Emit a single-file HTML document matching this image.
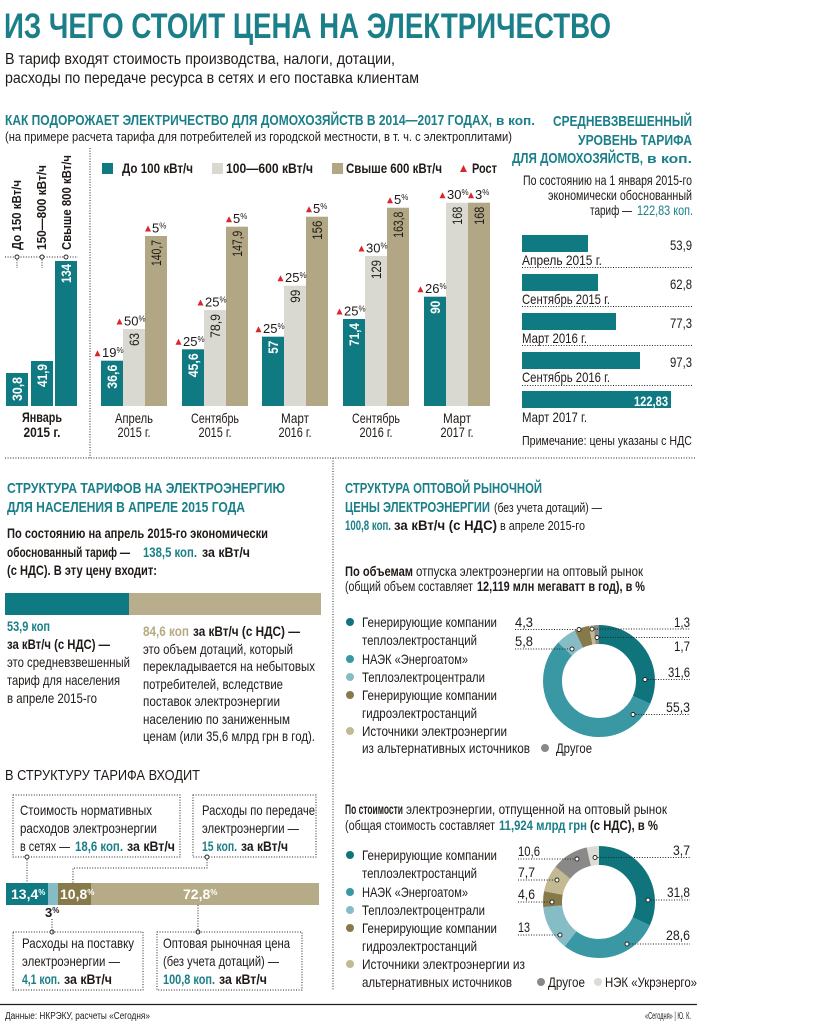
<!DOCTYPE html>
<html><head><meta charset="utf-8">
<style>
html,body{margin:0;padding:0;background:#fff;}
svg{display:block;}
text{font-family:"Liberation Sans Narrow","Liberation Sans",sans-serif;fill:#1f1a17;}
.b{font-weight:bold;}
.tl{fill:#1a7f88;}
.w{fill:#fff;}
.dot{stroke:#222;stroke-width:1;stroke-dasharray:1 1.6;fill:none;}
.c{fill:#fff;stroke:#222;stroke-width:0.9;}
</style></head>
<body>
<svg width="819" height="1030" viewBox="0 0 819 1030" xmlns="http://www.w3.org/2000/svg">
<rect width="819" height="1030" fill="#fff"/>

<!-- Title -->
<text x="4" y="38" font-size="35" class="b tl" textLength="607" lengthAdjust="spacingAndGlyphs">ИЗ ЧЕГО СТОИТ ЦЕНА НА ЭЛЕКТРИЧЕСТВО</text>
<text x="5" y="64" font-size="16" textLength="390" lengthAdjust="spacingAndGlyphs">В тариф входят стоимость производства, налоги, дотации,</text>
<text x="5" y="83" font-size="16" textLength="414" lengthAdjust="spacingAndGlyphs">расходы по передаче ресурса в сетях и его поставка клиентам</text>

<!-- Section 1 heading -->
<text x="5" y="125" font-size="15" class="b tl" textLength="487" lengthAdjust="spacingAndGlyphs">КАК ПОДОРОЖАЕТ ЭЛЕКТРИЧЕСТВО ДЛЯ ДОМОХОЗЯЙСТВ В 2014—2017 ГОДАХ,</text>
<text x="496" y="125" font-size="13" class="b tl" textLength="39" lengthAdjust="spacingAndGlyphs">в коп.</text>
<text x="5" y="141" font-size="13" textLength="507" lengthAdjust="spacingAndGlyphs">(на примере расчета тарифа для потребителей из городской местности, в т. ч. с электроплитами)</text>

<!-- Left January group -->
<text transform="translate(21,250) rotate(-90)" font-size="13" class="b" textLength="70" lengthAdjust="spacingAndGlyphs">До 150 кВт/ч</text>
<text transform="translate(46,250) rotate(-90)" font-size="13" class="b" textLength="85" lengthAdjust="spacingAndGlyphs">150—800 кВт/ч</text>
<text transform="translate(71,250) rotate(-90)" font-size="13" class="b" textLength="95" lengthAdjust="spacingAndGlyphs">Свыше 800 кВт/ч</text>
<line x1="5" y1="257" x2="78" y2="257" class="dot"/>
<line x1="17" y1="257" x2="17" y2="268" class="dot"/>
<line x1="42" y1="257" x2="42" y2="268" class="dot"/>
<circle cx="17" cy="257" r="2" class="c"/>
<circle cx="42" cy="257" r="2" class="c"/>
<circle cx="66" cy="257" r="2" class="c"/>
<rect x="6" y="373" width="22" height="33" fill="#107a82"/>
<rect x="31" y="361" width="22" height="45" fill="#107a82"/>
<rect x="55" y="261" width="22" height="145" fill="#107a82"/>
<text transform="translate(22,401) rotate(-90)" font-size="14" class="b w" textLength="24" lengthAdjust="spacingAndGlyphs">30,8</text>
<text transform="translate(47,387) rotate(-90)" font-size="14" class="b w" textLength="23" lengthAdjust="spacingAndGlyphs">41,9</text>
<text transform="translate(71,283) rotate(-90)" font-size="14" class="b w" textLength="19" lengthAdjust="spacingAndGlyphs">134</text>
<text x="42" y="422" font-size="14" class="b" text-anchor="middle" textLength="40" lengthAdjust="spacingAndGlyphs">Январь</text>
<text x="42" y="437" font-size="14" class="b" text-anchor="middle" textLength="37" lengthAdjust="spacingAndGlyphs">2015 г.</text>

<line x1="90" y1="148" x2="90" y2="458" class="dot"/>

<!-- Legend -->
<rect x="102" y="163" width="11" height="11" fill="#107a82"/>
<text x="122" y="173" font-size="14" class="b" textLength="71" lengthAdjust="spacingAndGlyphs">До 100 кВт/ч</text>
<rect x="212" y="163" width="11" height="11" fill="#dad9d1"/>
<text x="226" y="173" font-size="14" class="b" textLength="87" lengthAdjust="spacingAndGlyphs">100—600 кВт/ч</text>
<rect x="332" y="163" width="11" height="11" fill="#b1a784"/>
<text x="346" y="173" font-size="14" class="b" textLength="96" lengthAdjust="spacingAndGlyphs">Свыше 600 кВт/ч</text>
<polygon points="460,172 467,172 463.5,165" fill="#d9262b"/>
<text x="472" y="173" font-size="14" class="b" textLength="25" lengthAdjust="spacingAndGlyphs">Рост</text>

<!-- Bars main -->
<g>
<rect x="101" y="360.7" width="22" height="45.3" fill="#107a82"/>
<rect x="123" y="329" width="22" height="77" fill="#dad9d1"/>
<rect x="145" y="236" width="22" height="170" fill="#b1a784"/>
<rect x="182" y="349.3" width="22" height="56.7" fill="#107a82"/>
<rect x="204" y="310" width="22" height="96" fill="#dad9d1"/>
<rect x="226" y="226.7" width="22" height="179.3" fill="#b1a784"/>
<rect x="262" y="336.7" width="22" height="69.3" fill="#107a82"/>
<rect x="284" y="285.7" width="22" height="120.3" fill="#dad9d1"/>
<rect x="306" y="216.7" width="22" height="189.3" fill="#b1a784"/>
<rect x="343" y="319" width="22" height="87" fill="#107a82"/>
<rect x="365" y="256" width="22" height="150" fill="#dad9d1"/>
<rect x="387" y="207.7" width="22" height="198.3" fill="#b1a784"/>
<rect x="424" y="296.7" width="22" height="109.3" fill="#107a82"/>
<rect x="446" y="202.7" width="22" height="203.3" fill="#dad9d1"/>
<rect x="468" y="202.7" width="22" height="203.3" fill="#b1a784"/>
</g>
<!-- values in bars -->
<g font-size="14">
<text transform="translate(117,364.7) rotate(-90)" text-anchor="end" class="b w" textLength="24" lengthAdjust="spacingAndGlyphs">36,6</text>
<text transform="translate(139,333) rotate(-90)" text-anchor="end" textLength="13" lengthAdjust="spacingAndGlyphs">63</text>
<text transform="translate(161,240) rotate(-90)" text-anchor="end" textLength="26" lengthAdjust="spacingAndGlyphs">140,7</text>
<text transform="translate(198,353.3) rotate(-90)" text-anchor="end" class="b w" textLength="24" lengthAdjust="spacingAndGlyphs">45,6</text>
<text transform="translate(220,314) rotate(-90)" text-anchor="end" textLength="24" lengthAdjust="spacingAndGlyphs">78,9</text>
<text transform="translate(242,230.7) rotate(-90)" text-anchor="end" textLength="26" lengthAdjust="spacingAndGlyphs">147,9</text>
<text transform="translate(278,340.7) rotate(-90)" text-anchor="end" class="b w" textLength="13" lengthAdjust="spacingAndGlyphs">57</text>
<text transform="translate(300,289.7) rotate(-90)" text-anchor="end" textLength="13" lengthAdjust="spacingAndGlyphs">99</text>
<text transform="translate(322,220.7) rotate(-90)" text-anchor="end" textLength="19" lengthAdjust="spacingAndGlyphs">156</text>
<text transform="translate(359,323) rotate(-90)" text-anchor="end" class="b w" textLength="23" lengthAdjust="spacingAndGlyphs">71,4</text>
<text transform="translate(381,260) rotate(-90)" text-anchor="end" textLength="19" lengthAdjust="spacingAndGlyphs">129</text>
<text transform="translate(403,211.7) rotate(-90)" text-anchor="end" textLength="26" lengthAdjust="spacingAndGlyphs">163,8</text>
<text transform="translate(440,300.7) rotate(-90)" text-anchor="end" class="b w" textLength="13" lengthAdjust="spacingAndGlyphs">90</text>
<text transform="translate(462,206.7) rotate(-90)" text-anchor="end" textLength="18" lengthAdjust="spacingAndGlyphs">168</text>
<text transform="translate(484,206.7) rotate(-90)" text-anchor="end" textLength="18" lengthAdjust="spacingAndGlyphs">168</text>
</g>
<!-- growth labels -->
<g fill="#d9262b">
<polygon points="94.5,356.2 100.5,356.2 97.5,350.2"/>
<polygon points="116.5,324.5 122.5,324.5 119.5,318.5"/>
<polygon points="145,231.5 151,231.5 148,225.5"/>
<polygon points="175.5,344.8 181.5,344.8 178.5,338.8"/>
<polygon points="197.5,305.5 203.5,305.5 200.5,299.5"/>
<polygon points="226,222.2 232,222.2 229,216.2"/>
<polygon points="255.5,332.2 261.5,332.2 258.5,326.2"/>
<polygon points="277.5,281.2 283.5,281.2 280.5,275.2"/>
<polygon points="306,212.2 312,212.2 309,206.2"/>
<polygon points="336.5,314.5 342.5,314.5 339.5,308.5"/>
<polygon points="358.5,251.5 364.5,251.5 361.5,245.5"/>
<polygon points="387,203.2 393,203.2 390,197.2"/>
<polygon points="417.5,292.2 423.5,292.2 420.5,286.2"/>
<polygon points="439.5,198.2 445.5,198.2 442.5,192.2"/>
<polygon points="468,198.2 474,198.2 471,192.2"/>
</g>
<g font-size="13">
<text x="102" y="357.2">19<tspan font-size="8" dy="-4">%</tspan></text>
<text x="124" y="325.5">50<tspan font-size="8" dy="-4">%</tspan></text>
<text x="152" y="232.5">5<tspan font-size="8" dy="-4">%</tspan></text>
<text x="183" y="345.8">25<tspan font-size="8" dy="-4">%</tspan></text>
<text x="205" y="306.5">25<tspan font-size="8" dy="-4">%</tspan></text>
<text x="233" y="223.2">5<tspan font-size="8" dy="-4">%</tspan></text>
<text x="263" y="333.2">25<tspan font-size="8" dy="-4">%</tspan></text>
<text x="285" y="282.2">25<tspan font-size="8" dy="-4">%</tspan></text>
<text x="313" y="213.2">5<tspan font-size="8" dy="-4">%</tspan></text>
<text x="344" y="315.5">25<tspan font-size="8" dy="-4">%</tspan></text>
<text x="366" y="252.5">30<tspan font-size="8" dy="-4">%</tspan></text>
<text x="394" y="204.2">5<tspan font-size="8" dy="-4">%</tspan></text>
<text x="425" y="293.2">26<tspan font-size="8" dy="-4">%</tspan></text>
<text x="447" y="199.2">30<tspan font-size="8" dy="-4">%</tspan></text>
<text x="475" y="199.2">3<tspan font-size="8" dy="-4">%</tspan></text>
</g>
<!-- category labels -->
<g font-size="14" text-anchor="middle">
<text x="134" y="423" textLength="38" lengthAdjust="spacingAndGlyphs">Апрель</text>
<text x="134" y="437" textLength="33" lengthAdjust="spacingAndGlyphs">2015 г.</text>
<text x="215" y="423" textLength="48" lengthAdjust="spacingAndGlyphs">Сентябрь</text>
<text x="215" y="437" textLength="33" lengthAdjust="spacingAndGlyphs">2015 г.</text>
<text x="295" y="423" textLength="28" lengthAdjust="spacingAndGlyphs">Март</text>
<text x="295" y="437" textLength="33" lengthAdjust="spacingAndGlyphs">2016 г.</text>
<text x="376" y="423" textLength="48" lengthAdjust="spacingAndGlyphs">Сентябрь</text>
<text x="376" y="437" textLength="33" lengthAdjust="spacingAndGlyphs">2016 г.</text>
<text x="457" y="423" textLength="28" lengthAdjust="spacingAndGlyphs">Март</text>
<text x="457" y="437" textLength="33" lengthAdjust="spacingAndGlyphs">2017 г.</text>
</g>

<!-- Right panel -->
<text x="553" y="126" font-size="15" class="b tl" textLength="139" lengthAdjust="spacingAndGlyphs">СРЕДНЕВЗВЕШЕННЫЙ</text>
<text x="578" y="145" font-size="15" class="b tl" textLength="114" lengthAdjust="spacingAndGlyphs">УРОВЕНЬ ТАРИФА</text>
<text x="512" y="163" font-size="15" class="b tl" textLength="131" lengthAdjust="spacingAndGlyphs">ДЛЯ ДОМОХОЗЯЙСТВ,</text>
<text x="647" y="163" font-size="13" class="b tl" textLength="45" lengthAdjust="spacingAndGlyphs">в коп.</text>
<text x="523" y="185" font-size="14" textLength="169" lengthAdjust="spacingAndGlyphs">По состоянию на 1 января 2015-го</text>
<text x="548" y="200" font-size="14" textLength="144" lengthAdjust="spacingAndGlyphs">экономически обоснованный</text>
<text x="590" y="215" font-size="14" textLength="42" lengthAdjust="spacingAndGlyphs">тариф —</text>
<text x="637" y="215" font-size="14" class="tl" textLength="56" lengthAdjust="spacingAndGlyphs">122,83 коп.</text>

<rect x="522" y="235" width="66" height="17" fill="#107a82"/>
<text x="692" y="250" font-size="14" text-anchor="end" textLength="22" lengthAdjust="spacingAndGlyphs">53,9</text>
<text x="522" y="265" font-size="14" textLength="80" lengthAdjust="spacingAndGlyphs">Апрель 2015  г.</text>
<line x1="522" y1="267.5" x2="692" y2="267.5" class="dot"/>
<rect x="522" y="274" width="76" height="17" fill="#107a82"/>
<text x="692" y="289" font-size="14" text-anchor="end" textLength="22" lengthAdjust="spacingAndGlyphs">62,8</text>
<text x="522" y="304" font-size="14" textLength="88" lengthAdjust="spacingAndGlyphs">Сентябрь 2015 г.</text>
<line x1="522" y1="306.5" x2="692" y2="306.5" class="dot"/>
<rect x="522" y="313" width="94" height="17" fill="#107a82"/>
<text x="692" y="328" font-size="14" text-anchor="end" textLength="22" lengthAdjust="spacingAndGlyphs">77,3</text>
<text x="522" y="343" font-size="14" textLength="65" lengthAdjust="spacingAndGlyphs">Март 2016 г.</text>
<line x1="522" y1="345.5" x2="692" y2="345.5" class="dot"/>
<rect x="522" y="352" width="118" height="17" fill="#107a82"/>
<text x="692" y="367" font-size="14" text-anchor="end" textLength="22" lengthAdjust="spacingAndGlyphs">97,3</text>
<text x="522" y="382" font-size="14" textLength="88" lengthAdjust="spacingAndGlyphs">Сентябрь 2016 г.</text>
<line x1="522" y1="385.5" x2="692" y2="385.5" class="dot"/>
<rect x="522" y="391" width="149" height="17" fill="#107a82"/>
<text x="668" y="406" font-size="14" text-anchor="end" class="b w" textLength="34" lengthAdjust="spacingAndGlyphs">122,83</text>
<text x="522" y="422" font-size="14" textLength="65" lengthAdjust="spacingAndGlyphs">Март 2017 г.</text>
<text x="522" y="445" font-size="13" textLength="170" lengthAdjust="spacingAndGlyphs">Примечание: цены указаны с НДС</text>

<!-- separators -->
<line x1="5" y1="458" x2="695" y2="458" class="dot"/>
<line x1="333" y1="458" x2="333" y2="990" class="dot"/>

<!-- Section 2 left -->
<text x="7" y="493" font-size="15" class="b tl" textLength="278" lengthAdjust="spacingAndGlyphs">СТРУКТУРА ТАРИФОВ НА ЭЛЕКТРОЭНЕРГИЮ</text>
<text x="7" y="512" font-size="15" class="b tl" textLength="238" lengthAdjust="spacingAndGlyphs">ДЛЯ НАСЕЛЕНИЯ В АПРЕЛЕ 2015 ГОДА</text>
<text x="7" y="538" font-size="14" class="b" textLength="261" lengthAdjust="spacingAndGlyphs">По состоянию на апрель 2015-го экономически</text>
<text x="7" y="557" font-size="14" class="b" textLength="123" lengthAdjust="spacingAndGlyphs">обоснованный тариф —</text>
<text x="143" y="557" font-size="14" class="b tl" textLength="54" lengthAdjust="spacingAndGlyphs">138,5 коп.</text>
<text x="202" y="557" font-size="14" class="b" textLength="48" lengthAdjust="spacingAndGlyphs">за кВт/ч</text>
<text x="7" y="575" font-size="14" class="b" textLength="150" lengthAdjust="spacingAndGlyphs">(с НДС). В эту цену входит:</text>
<rect x="5" y="593" width="124" height="22" fill="#107a82"/>
<rect x="129" y="593" width="192" height="22" fill="#b8ae8b"/>
<g font-size="14">
<text x="7" y="631" class="b tl" textLength="43" lengthAdjust="spacingAndGlyphs">53,9 коп</text>
<text x="7" y="649" class="b" textLength="103" lengthAdjust="spacingAndGlyphs">за кВт/ч (с НДС) —</text>
<text x="7" y="667" textLength="123" lengthAdjust="spacingAndGlyphs">это средневзвешенный</text>
<text x="7" y="685" textLength="113" lengthAdjust="spacingAndGlyphs">тариф для населения</text>
<text x="7" y="703" textLength="90" lengthAdjust="spacingAndGlyphs">в апреле 2015-го</text>
<text x="143" y="636" class="b" style="fill:#b5aa84" textLength="46" lengthAdjust="spacingAndGlyphs">84,6 коп</text>
<text x="193" y="636" class="b" textLength="107" lengthAdjust="spacingAndGlyphs">за кВт/ч (с НДС) —</text>
<text x="143" y="654" textLength="150" lengthAdjust="spacingAndGlyphs">это объем дотаций, который</text>
<text x="143" y="671" textLength="172" lengthAdjust="spacingAndGlyphs">перекладывается на небытовых</text>
<text x="143" y="689" textLength="140" lengthAdjust="spacingAndGlyphs">потребителей, вследствие</text>
<text x="143" y="706" textLength="137" lengthAdjust="spacingAndGlyphs">поставок электроэнергии</text>
<text x="143" y="724" textLength="147" lengthAdjust="spacingAndGlyphs">населению по заниженным</text>
<text x="143" y="741" textLength="172" lengthAdjust="spacingAndGlyphs">ценам (или 35,6 млрд грн в год).</text>
</g>

<!-- Section 3 bottom left -->
<text x="5" y="780" font-size="15" textLength="195" lengthAdjust="spacingAndGlyphs">В СТРУКТУРУ ТАРИФА ВХОДИТ</text>
<rect x="13" y="795" width="167" height="62" class="dot"/>
<g font-size="14">
<text x="20" y="815" textLength="132" lengthAdjust="spacingAndGlyphs">Стоимость нормативных</text>
<text x="20" y="833" textLength="137" lengthAdjust="spacingAndGlyphs">расходов электроэнергии</text>
<text x="20" y="851" textLength="50" lengthAdjust="spacingAndGlyphs">в сетях —</text>
<text x="75" y="851" class="b tl" textLength="48" lengthAdjust="spacingAndGlyphs">18,6 коп.</text>
<text x="127" y="851" class="b" textLength="48" lengthAdjust="spacingAndGlyphs">за кВт/ч</text>
</g>
<rect x="193" y="795" width="123" height="62" class="dot"/>
<g font-size="14">
<text x="202" y="815" textLength="113" lengthAdjust="spacingAndGlyphs">Расходы по передаче</text>
<text x="202" y="833" textLength="97" lengthAdjust="spacingAndGlyphs">электроэнергии —</text>
<text x="202" y="851" class="b tl" textLength="35" lengthAdjust="spacingAndGlyphs">15 коп.</text>
<text x="241" y="851" class="b" textLength="47" lengthAdjust="spacingAndGlyphs">за кВт/ч</text>
</g>
<line x1="27" y1="857" x2="27" y2="883" class="dot"/>
<circle cx="27" cy="857" r="2" class="c"/>
<polyline points="207,857 207,868 73,868 73,883" class="dot"/>
<circle cx="207" cy="857" r="2" class="c"/>

<rect x="6" y="883" width="42" height="22" fill="#107a82"/>
<rect x="48" y="883" width="10" height="22" fill="#86bcc6"/>
<rect x="58" y="883" width="33" height="22" fill="#877a4a"/>
<rect x="91" y="883" width="228" height="22" fill="#b5ab86"/>
<text x="11" y="899" font-size="14" class="b w">13,4<tspan font-size="8" dy="-4">%</tspan></text>
<text x="60" y="899" font-size="14" class="b w">10,8<tspan font-size="8" dy="-4">%</tspan></text>
<text x="183" y="899" font-size="14" class="b w">72,8<tspan font-size="8" dy="-4">%</tspan></text>
<text x="45" y="917" font-size="13" class="b">3<tspan font-size="8" dy="-4">%</tspan></text>
<line x1="52" y1="919" x2="52" y2="932" class="dot"/>
<circle cx="52" cy="932" r="2" class="c"/>
<line x1="198" y1="905" x2="198" y2="932" class="dot"/>
<circle cx="198" cy="932" r="2" class="c"/>

<rect x="13" y="932" width="130" height="58" class="dot"/>
<g font-size="14">
<text x="22" y="948" textLength="112" lengthAdjust="spacingAndGlyphs">Расходы на поставку</text>
<text x="22" y="966" textLength="98" lengthAdjust="spacingAndGlyphs">электроэнергии —</text>
<text x="22" y="984" class="b tl" textLength="38" lengthAdjust="spacingAndGlyphs">4,1 коп.</text>
<text x="64" y="984" class="b" textLength="48" lengthAdjust="spacingAndGlyphs">за кВт/ч</text>
</g>
<rect x="157" y="932" width="145" height="58" class="dot"/>
<g font-size="14">
<text x="163" y="948" textLength="127" lengthAdjust="spacingAndGlyphs">Оптовая рыночная цена</text>
<text x="163" y="966" textLength="116" lengthAdjust="spacingAndGlyphs">(без учета дотаций) —</text>
<text x="163" y="984" class="b tl" textLength="52" lengthAdjust="spacingAndGlyphs">100,8 коп.</text>
<text x="219" y="984" class="b" textLength="48" lengthAdjust="spacingAndGlyphs">за кВт/ч</text>
</g>

<!-- Section 2 right -->
<text x="345" y="493" font-size="15" class="b tl" textLength="197" lengthAdjust="spacingAndGlyphs">СТРУКТУРА ОПТОВОЙ РЫНОЧНОЙ</text>
<text x="345" y="512" font-size="15" class="b tl" textLength="145" lengthAdjust="spacingAndGlyphs">ЦЕНЫ ЭЛЕКТРОЭНЕРГИИ</text>
<text x="494" y="512" font-size="13" textLength="108" lengthAdjust="spacingAndGlyphs">(без учета дотаций) —</text>
<text x="345" y="530" font-size="14" class="b tl" textLength="46" lengthAdjust="spacingAndGlyphs">100,8 коп.</text>
<text x="394" y="530" font-size="14" class="b" textLength="103" lengthAdjust="spacingAndGlyphs">за кВт/ч (с НДС)</text>
<text x="500" y="530" font-size="13" textLength="85" lengthAdjust="spacingAndGlyphs">в апреле 2015-го</text>

<text x="345" y="576" font-size="14" class="b" textLength="68" lengthAdjust="spacingAndGlyphs">По объемам</text>
<text x="416" y="576" font-size="14" textLength="227" lengthAdjust="spacingAndGlyphs">отпуска электроэнергии на оптовый рынок</text>
<text x="345" y="591" font-size="14" textLength="128" lengthAdjust="spacingAndGlyphs">(общий объем составляет</text>
<text x="477" y="591" font-size="14" class="b" textLength="168" lengthAdjust="spacingAndGlyphs">12,119 млн мегаватт в год), в %</text>

<!-- Legend 1 -->
<circle cx="350" cy="622" r="4" fill="#0f747b"/>
<circle cx="350" cy="659" r="4" fill="#3a98a5"/>
<circle cx="350" cy="677" r="4" fill="#86bcc6"/>
<circle cx="350" cy="695" r="4" fill="#877a4a"/>
<circle cx="350" cy="731" r="4" fill="#c3b992"/>
<circle cx="545" cy="748" r="4" fill="#8a8987"/>
<g font-size="14">
<text x="362" y="627" textLength="135" lengthAdjust="spacingAndGlyphs">Генерирующие компании</text>
<text x="362" y="645" textLength="115" lengthAdjust="spacingAndGlyphs">теплоэлектростанций</text>
<text x="362" y="664" textLength="106" lengthAdjust="spacingAndGlyphs">НАЭК «Энергоатом»</text>
<text x="362" y="682" textLength="123" lengthAdjust="spacingAndGlyphs">Теплоэлектроцентрали</text>
<text x="362" y="700" textLength="135" lengthAdjust="spacingAndGlyphs">Генерирующие компании</text>
<text x="362" y="718" textLength="115" lengthAdjust="spacingAndGlyphs">гидроэлектростанций</text>
<text x="362" y="736" textLength="145" lengthAdjust="spacingAndGlyphs">Источники электроэнергии</text>
<text x="362" y="753" textLength="168" lengthAdjust="spacingAndGlyphs">из альтернативных источников</text>
<text x="556" y="753" textLength="36" lengthAdjust="spacingAndGlyphs">Другое</text>
</g>

<!-- Donut 1 -->
<g transform="rotate(-90 599 681)" fill="none" stroke-width="19">
<circle cx="599" cy="681" r="46.5" stroke="#0f747b" stroke-dasharray="92.33 400" stroke-dashoffset="0"/>
<circle cx="599" cy="681" r="46.5" stroke="#3a98a5" stroke-dasharray="161.57 400" stroke-dashoffset="-92.33"/>
<circle cx="599" cy="681" r="46.5" stroke="#86bcc6" stroke-dasharray="16.95 400" stroke-dashoffset="-253.9"/>
<circle cx="599" cy="681" r="46.5" stroke="#877a4a" stroke-dasharray="12.56 400" stroke-dashoffset="-270.85"/>
<circle cx="599" cy="681" r="46.5" stroke="#c3b992" stroke-dasharray="3.8 400" stroke-dashoffset="-283.41"/>
<circle cx="599" cy="681" r="46.5" stroke="#8a8987" stroke-dasharray="4.97 400" stroke-dashoffset="-287.21"/>
</g>
<g font-size="14">
<text x="515" y="627" textLength="18" lengthAdjust="spacingAndGlyphs">4,3</text>
<line x1="515" y1="629.5" x2="579" y2="629.5" class="dot"/><circle cx="579" cy="629.5" r="2" class="c"/>
<text x="515" y="646" textLength="18" lengthAdjust="spacingAndGlyphs">5,8</text>
<line x1="515" y1="649" x2="572" y2="649" class="dot"/><circle cx="572" cy="649" r="2" class="c"/>
<text x="690" y="627" text-anchor="end" textLength="16" lengthAdjust="spacingAndGlyphs">1,3</text>
<line x1="592" y1="629" x2="690" y2="629" class="dot"/><circle cx="592" cy="629" r="2" class="c"/>
<text x="690" y="651" text-anchor="end" textLength="16" lengthAdjust="spacingAndGlyphs">1,7</text>
<line x1="597" y1="637.5" x2="690" y2="637.5" class="dot"/><circle cx="597" cy="637.5" r="2" class="c"/>
<text x="690" y="677" text-anchor="end" textLength="22" lengthAdjust="spacingAndGlyphs">31,6</text>
<line x1="645" y1="679.5" x2="690" y2="679.5" class="dot"/><circle cx="645" cy="679.5" r="2" class="c"/>
<text x="690" y="712" text-anchor="end" textLength="24" lengthAdjust="spacingAndGlyphs">55,3</text>
<line x1="633" y1="714.5" x2="690" y2="714.5" class="dot"/><circle cx="633" cy="714.5" r="2" class="c"/>
</g>

<!-- Cost section -->
<text x="345" y="814" font-size="14" class="b" textLength="58" lengthAdjust="spacingAndGlyphs">По стоимости</text>
<text x="406" y="814" font-size="14" textLength="261" lengthAdjust="spacingAndGlyphs">электроэнергии, отпущенной на оптовый рынок</text>
<text x="345" y="830" font-size="14" textLength="150" lengthAdjust="spacingAndGlyphs">(общая стоимость составляет</text>
<text x="499" y="830" font-size="14" class="b tl" textLength="88" lengthAdjust="spacingAndGlyphs">11,924 млрд грн</text>
<text x="590" y="830" font-size="14" class="b" textLength="68" lengthAdjust="spacingAndGlyphs">(с НДС), в %</text>

<circle cx="350" cy="855" r="4" fill="#0f747b"/>
<circle cx="350" cy="892" r="4" fill="#3a98a5"/>
<circle cx="350" cy="910" r="4" fill="#86bcc6"/>
<circle cx="350" cy="928" r="4" fill="#877a4a"/>
<circle cx="350" cy="964" r="4" fill="#c3b992"/>
<circle cx="541" cy="982" r="4" fill="#8a8987"/>
<circle cx="598" cy="982" r="4" fill="#dcdbd5"/>
<g font-size="14">
<text x="362" y="860" textLength="135" lengthAdjust="spacingAndGlyphs">Генерирующие компании</text>
<text x="362" y="878" textLength="115" lengthAdjust="spacingAndGlyphs">теплоэлектростанций</text>
<text x="362" y="897" textLength="106" lengthAdjust="spacingAndGlyphs">НАЭК «Энергоатом»</text>
<text x="362" y="915" textLength="123" lengthAdjust="spacingAndGlyphs">Теплоэлектроцентрали</text>
<text x="362" y="933" textLength="135" lengthAdjust="spacingAndGlyphs">Генерирующие компании</text>
<text x="362" y="951" textLength="115" lengthAdjust="spacingAndGlyphs">гидроэлектростанций</text>
<text x="362" y="969" textLength="163" lengthAdjust="spacingAndGlyphs">Источники электроэнергии из</text>
<text x="362" y="987" textLength="150" lengthAdjust="spacingAndGlyphs">альтернативных источников</text>
<text x="548" y="987" textLength="37" lengthAdjust="spacingAndGlyphs">Другое</text>
<text x="605" y="987" textLength="92" lengthAdjust="spacingAndGlyphs">НЭК «Укрэнерго»</text>
</g>

<!-- Donut 2 -->
<g transform="rotate(-90 599 902)" fill="none" stroke-width="19">
<circle cx="599" cy="902" r="46.5" stroke="#0f747b" stroke-dasharray="92.91 400" stroke-dashoffset="0"/>
<circle cx="599" cy="902" r="46.5" stroke="#3a98a5" stroke-dasharray="83.56 400" stroke-dashoffset="-92.91"/>
<circle cx="599" cy="902" r="46.5" stroke="#86bcc6" stroke-dasharray="37.98 400" stroke-dashoffset="-176.47"/>
<circle cx="599" cy="902" r="46.5" stroke="#877a4a" stroke-dasharray="13.44 400" stroke-dashoffset="-214.45"/>
<circle cx="599" cy="902" r="46.5" stroke="#c3b992" stroke-dasharray="22.5 400" stroke-dashoffset="-227.89"/>
<circle cx="599" cy="902" r="46.5" stroke="#8a8987" stroke-dasharray="30.97 400" stroke-dashoffset="-250.39"/>
<circle cx="599" cy="902" r="46.5" stroke="#dcdbd5" stroke-dasharray="10.81 400" stroke-dashoffset="-281.36"/>
</g>
<g font-size="14">
<text x="518" y="856" textLength="22" lengthAdjust="spacingAndGlyphs">10,6</text>
<line x1="518" y1="859" x2="577" y2="859" class="dot"/><circle cx="577" cy="859" r="2" class="c"/>
<text x="518" y="877" textLength="17" lengthAdjust="spacingAndGlyphs">7,7</text>
<line x1="518" y1="880" x2="557" y2="880" class="dot"/><circle cx="557" cy="880" r="2" class="c"/>
<text x="518" y="899" textLength="17" lengthAdjust="spacingAndGlyphs">4,6</text>
<line x1="518" y1="902" x2="552" y2="902" class="dot"/><circle cx="552" cy="902" r="2" class="c"/>
<text x="518" y="932" textLength="12" lengthAdjust="spacingAndGlyphs">13</text>
<line x1="518" y1="935" x2="560" y2="935" class="dot"/><circle cx="560" cy="935" r="2" class="c"/>
<text x="690" y="855" text-anchor="end" textLength="17" lengthAdjust="spacingAndGlyphs">3,7</text>
<line x1="595" y1="857.5" x2="690" y2="857.5" class="dot"/><circle cx="595" cy="857.5" r="2" class="c"/>
<text x="690" y="897" text-anchor="end" textLength="23" lengthAdjust="spacingAndGlyphs">31,8</text>
<line x1="648" y1="900" x2="690" y2="900" class="dot"/><circle cx="648" cy="900" r="2" class="c"/>
<text x="690" y="940" text-anchor="end" textLength="24" lengthAdjust="spacingAndGlyphs">28,6</text>
<line x1="627" y1="944" x2="690" y2="944" class="dot"/><circle cx="627" cy="944" r="2" class="c"/>
</g>

<!-- Footer -->
<line x1="0" y1="1004.5" x2="697" y2="1004.5" stroke="#222" stroke-width="1.2"/>
<text x="5" y="1019" font-size="10" textLength="145" lengthAdjust="spacingAndGlyphs">Данные: НКРЭКУ, расчеты «Сегодня»</text>
<text x="691" y="1019" font-size="10" text-anchor="end" textLength="46" lengthAdjust="spacingAndGlyphs">«Сегодня» | Ю. К.</text>
</svg>
</body></html>
